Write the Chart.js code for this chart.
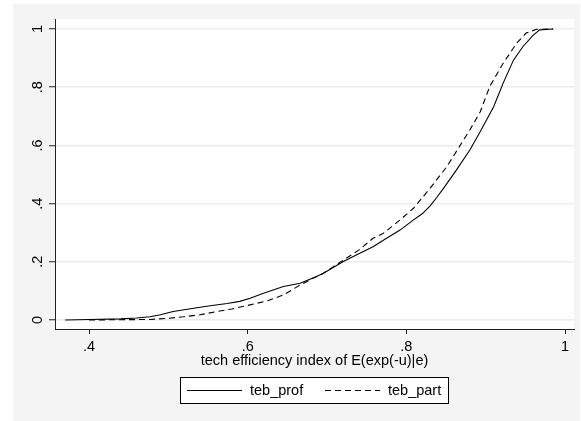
<!DOCTYPE html>
<html>
<head>
<meta charset="utf-8">
<script src="https://cdn.jsdelivr.net/npm/chart.js@4/dist/chart.umd.min.js"></script>
<style>
  html, body { margin: 0; padding: 0; background: #fff; }
  canvas { display: block; }
</style>
</head>
<body>
<canvas id="c" width="581" height="421"></canvas>
<script>
// cumulative distribution of the efficiency scores
const profX = [0.370, 0.400, 0.440, 0.460, 0.477, 0.490, 0.506, 0.520, 0.540, 0.555, 0.574, 0.590,
  0.603, 0.620, 0.645, 0.666, 0.680, 0.695, 0.720, 0.740, 0.758, 0.775, 0.792, 0.809, 0.820,
  0.830, 0.838, 0.847, 0.863, 0.880, 0.893, 0.910, 0.922, 0.935, 0.947, 0.960, 0.968, 0.985];
const profY = [0.000, 0.002, 0.004, 0.007, 0.011, 0.018, 0.029, 0.035, 0.044, 0.050, 0.057, 0.064,
  0.075, 0.092, 0.115, 0.126, 0.142, 0.160, 0.200, 0.228, 0.252, 0.281, 0.309, 0.344, 0.365,
  0.392, 0.420, 0.453, 0.515, 0.584, 0.647, 0.733, 0.814, 0.893, 0.940, 0.979, 0.997, 1.000];

const partX = [0.400, 0.440, 0.477, 0.500, 0.519, 0.540, 0.561, 0.580, 0.603, 0.625, 0.645, 0.666,
  0.680, 0.695, 0.720, 0.740, 0.758, 0.771, 0.792, 0.809, 0.830, 0.851, 0.868, 0.880, 0.893,
  0.905, 0.922, 0.939, 0.951, 0.964, 0.985];
const partY = [0.000, 0.001, 0.002, 0.006, 0.011, 0.018, 0.029, 0.038, 0.052, 0.066, 0.086, 0.120,
  0.140, 0.160, 0.205, 0.240, 0.281, 0.298, 0.344, 0.384, 0.453, 0.527, 0.601, 0.653, 0.715,
  0.802, 0.882, 0.951, 0.986, 0.999, 1.000];

const xTicks = [0.4, 0.6, 0.8, 1];
const xTickLabels = ['.4', '.6', '.8', '1'];
const yTicks = [0, 0.2, 0.4, 0.6, 0.8, 1];
const yTickLabels = ['0', '.2', '.4', '.6', '.8', '1'];

const seriesNames = ['teb_prof', 'teb_part'];
const xTitle = 'tech efficiency index of E(exp(-u)|e)';

const FONT = "'Liberation Sans', Arial, Helvetica, sans-serif";
const FSIZE = 14.5;

function pts(xs, ys) {
  return xs.map((x, i) => ({ x: x, y: ys[i] }));
}

// stata-ish frame: grey graph region, rotated y labels, boxed legend
const stataLook = {
  id: 'stataLook',
  beforeDraw(chart) {
    const ctx = chart.ctx, a = chart.chartArea;
    ctx.save();
    ctx.fillStyle = '#f4f4f4';
    ctx.fillRect(13, 4, 567, 417);
    ctx.fillStyle = '#fff';
    ctx.fillRect(a.left, a.top, a.right - a.left, a.bottom - a.top);
    ctx.restore();
  },
  afterDraw(chart) {
    const ctx = chart.ctx, ys = chart.scales.y;
    ctx.save();
    ctx.font = FSIZE + 'px ' + FONT;
    ctx.fillStyle = '#000';
    ctx.textAlign = 'center';
    ctx.textBaseline = 'alphabetic';
    yTicks.forEach((v, i) => {
      ctx.save();
      ctx.translate(41.5, ys.getPixelForValue(v));
      ctx.rotate(-Math.PI / 2);
      ctx.fillText(yTickLabels[i], 0, 0);
      ctx.restore();
    });

    // legend
    const bx = 180, by = 377, bw = 268, bh = 26;
    ctx.fillStyle = '#fff';
    ctx.fillRect(bx, by, bw, bh);
    ctx.strokeStyle = '#000';
    ctx.lineWidth = 1;
    ctx.strokeRect(bx + 0.5, by + 0.5, bw, bh);
    const starts = [187, 325];
    const ly = by + 13.5;
    chart.data.datasets.forEach((ds, i) => {
      ctx.beginPath();
      ctx.setLineDash(ds.borderDash || []);
      ctx.strokeStyle = ds.borderColor;
      ctx.lineWidth = ds.borderWidth;
      ctx.moveTo(starts[i], ly);
      ctx.lineTo(starts[i] + 55, ly);
      ctx.stroke();
      ctx.setLineDash([]);
      ctx.fillStyle = '#000';
      ctx.textAlign = 'left';
      ctx.textBaseline = 'middle';
      ctx.fillText(ds.label, starts[i] + 63, ly);
    });
    ctx.restore();
  }
};

new Chart(document.getElementById('c'), {
  type: 'line',
  data: {
    datasets: [
      {
        label: seriesNames[0],
        data: pts(profX, profY),
        borderColor: '#000',
        borderWidth: 1.1,
        pointRadius: 0,
        tension: 0
      },
      {
        label: seriesNames[1],
        data: pts(partX, partY),
        borderColor: '#000',
        borderWidth: 1.1,
        borderDash: [6, 4],
        pointRadius: 0,
        tension: 0
      }
    ]
  },
  options: {
    responsive: false,
    animation: false,
    devicePixelRatio: 1,
    layout: { padding: { left: 0, top: 19, right: 7, bottom: 0 } },
    plugins: {
      legend: { display: false },
      tooltip: { enabled: false }
    },
    scales: {
      x: {
        type: 'linear',
        min: 0.3571,
        max: 1.0113,
        afterBuildTicks: s => { s.ticks = xTicks.map(v => ({ value: v })); },
        afterFit: s => { s.height = 92; },
        ticks: {
          autoSkip: false,
          maxRotation: 0,
          color: '#000',
          padding: 4,
          font: { family: FONT, size: FSIZE },
          callback: v => xTickLabels[xTicks.indexOf(v)]
        },
        grid: { drawOnChartArea: false, tickLength: 5, tickColor: '#222', tickWidth: 1 },
        border: { color: '#222', width: 1 },
        title: {
          display: true,
          text: xTitle,
          color: '#000',
          font: { family: FONT, size: FSIZE },
          padding: { top: 0, bottom: 51 }
        }
      },
      y: {
        type: 'linear',
        min: -0.0309,
        max: 1.0344,
        afterBuildTicks: s => { s.ticks = yTicks.map(v => ({ value: v })); },
        afterFit: s => { s.width = 55; },
        ticks: { display: false },
        grid: { color: '#ececec', lineWidth: 1.5, tickLength: 6, tickColor: '#222', tickWidth: 1 },
        border: { color: '#222', width: 1 }
      }
    }
  },
  plugins: [stataLook]
});
</script>
</body>
</html>
